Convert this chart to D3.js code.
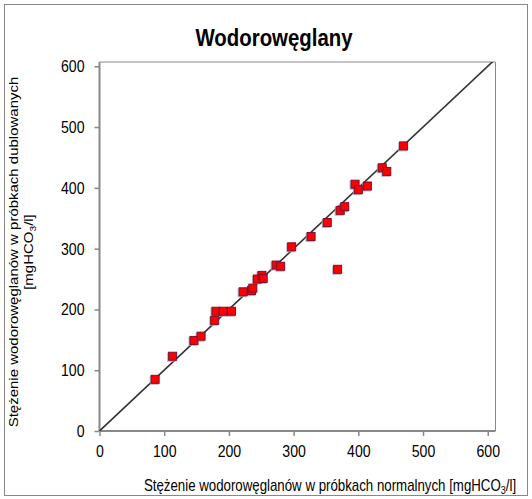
<!DOCTYPE html>
<html><head><meta charset="utf-8">
<script src="https://cdn.jsdelivr.net/npm/d3@7"></script>
<style>body{margin:0;background:#fff}svg{display:block}</style>
</head><body>
<script>
const normal = [86,113,146,157,178,180,191,204,222,235,237,244,251,253,273,280,297,327,352,368,372,379,395,400,414,437,444,470];
const duplicate = [85,123,149,156,182,197,197,197,229,231,235,250,256,251,273,271,303,320,343,266,363,369,406,397,403,433,427,469];
const ticks = [0,100,200,300,400,500,600];
const diag = [0,610];
const title = "Wodorowęglany";
const xTitle = ["Stężenie wodorowęglanów w próbkach normalnych [mgHCO","3","/l]"];
const yTitle1 = "Stężenie wodorowęglanów w próbkach dublowanych";
const yTitle2 = ["[mgHCO","3","/l]"];

const W=532,H=499;
const F="'Liberation Sans',Arial,sans-serif";
const SX=0.83;
const svg=d3.select("body").append("svg").attr("width",W).attr("height",H);
svg.append("rect").attr("x",4.5).attr("y",4.5).attr("width",523).attr("height",491).attr("fill","#fff").attr("stroke","#888").attr("stroke-width",1);

const x=d3.scaleLinear().domain([0,612]).range([99.5,495.5]);
const y=d3.scaleLinear().domain([0,607]).range([431,62]);

svg.append("path").attr("d",`M${x(0)},${y(607)}H${x(612)}V${y(0)}`).attr("fill","none").attr("stroke","#888").attr("stroke-width",1);

const xa=svg.append("g").attr("transform",`translate(0,${y(0)})`).call(d3.axisBottom(x).tickValues(ticks).tickSize(5).tickPadding(9).tickSizeOuter(0));
const ya=svg.append("g").attr("transform",`translate(${x(0)},0)`).call(d3.axisLeft(y).tickValues(ticks).tickSize(5).tickPadding(10).tickSizeOuter(0));
[xa,ya].forEach(a=>{
  a.select(".domain").attr("stroke","#888").attr("stroke-width",2);
  a.selectAll(".tick line").attr("stroke","#888").attr("stroke-width",1.5);
  a.selectAll("text").attr("font-family",F).attr("font-size",17).attr("fill","#000");
});
xa.selectAll("text").attr("transform",`scale(${SX},1)`);
ya.selectAll("text").attr("x",-15/SX).attr("transform",`scale(${SX},1)`);
xa.select(".domain").attr("d",`M${x(0)},0H${x(612)}`);
ya.select(".domain").attr("d",`M0,${y(0)}V${y(607)}`);

svg.append("clipPath").attr("id","c").append("rect").attr("x",x(0)).attr("y",y(607)).attr("width",x(612)-x(0)).attr("height",y(0)-y(607));
svg.append("line").attr("clip-path","url(#c)").attr("x1",x(diag[0])).attr("y1",y(diag[0])).attr("x2",x(diag[1])).attr("y2",y(diag[1])).attr("stroke","#333").attr("stroke-width",1.6);

const pts=normal.map((v,i)=>[v,duplicate[i]]);
svg.append("g").selectAll("rect").data(pts).join("rect")
  .attr("x",d=>x(d[0])-5.5).attr("y",d=>y(d[1])-3.5).attr("width",9).attr("height",9)
  .attr("fill","#9ea4bf").attr("opacity",0.8);
svg.append("g").selectAll("rect").data(pts).join("rect")
  .attr("x",d=>x(d[0])-4).attr("y",d=>y(d[1])-4).attr("width",8).attr("height",8)
  .attr("fill","#ff0000").attr("stroke","#7a1030").attr("stroke-width",1);

function label(tx,ty,rot,parts,size,sx,bold){
  const t=svg.append("text").attr("transform",`translate(${tx},${ty}) scale(${sx},1) rotate(${rot})`)
    .attr("text-anchor","middle").attr("font-family",F).attr("font-size",size).attr("fill","#000");
  if(bold) t.attr("font-weight","bold");
  if(typeof parts==="string"){t.text(parts);return t;}
  t.append("tspan").text(parts[0]);
  t.append("tspan").attr("baseline-shift","-30%").attr("font-size",size*0.68).text(parts[1]);
  t.append("tspan").text(parts[2]);
  return t;
}
label(274,46,0,title,24,0.85,true);
label(330,491,0,xTitle,16,SX,false);
label(18,252,-90,yTitle1,15,SX,false);
label(33,252,-90,yTitle2,15,SX,false);
</script>
</body></html>
